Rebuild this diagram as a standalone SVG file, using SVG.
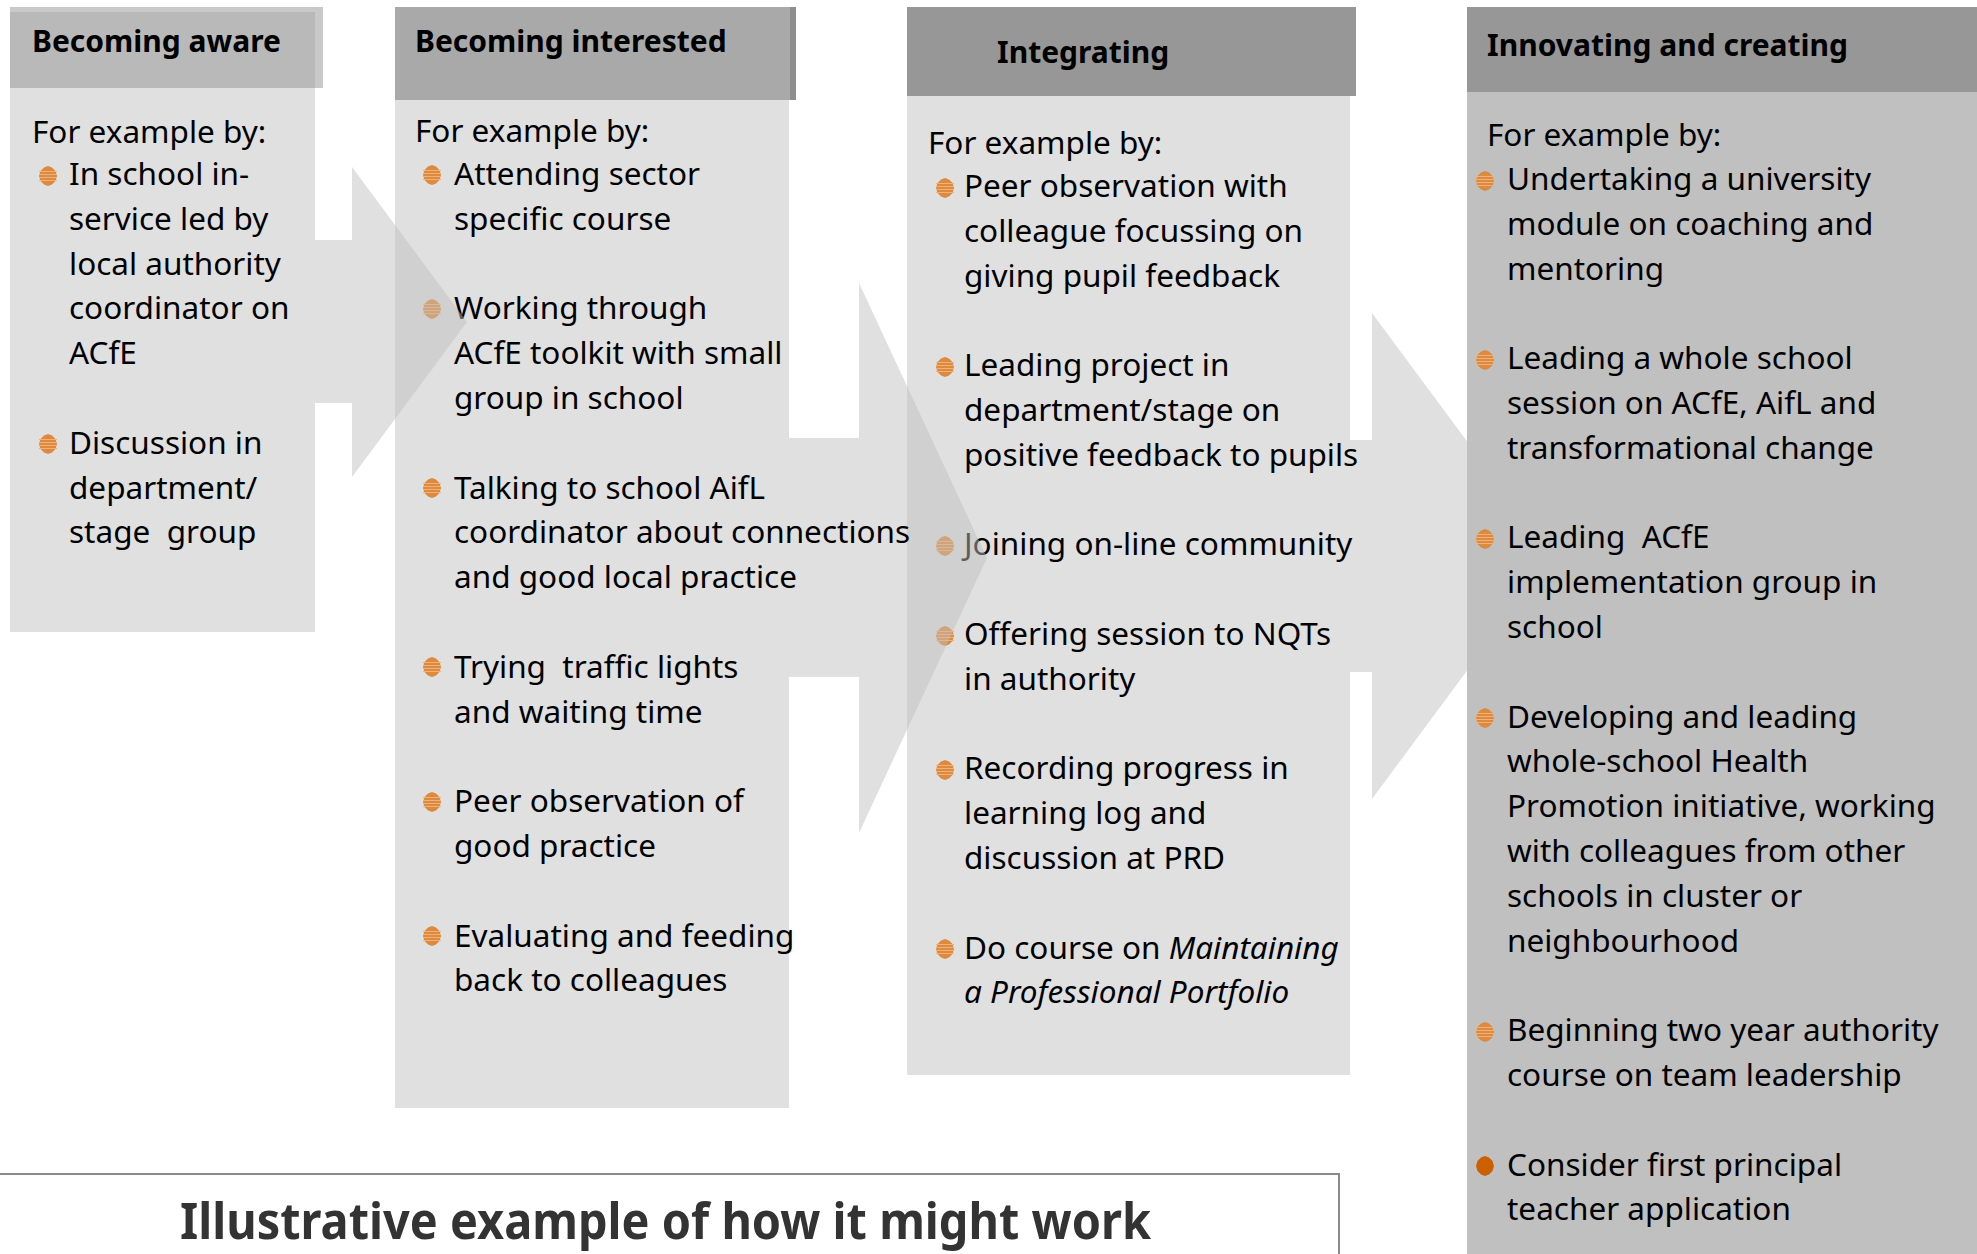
<svg xmlns="http://www.w3.org/2000/svg" width="1977" height="1254" viewBox="0 0 1977 1254">
  <defs>
    <style>
      .t { font-family: "Noto Sans", "DejaVu Sans", sans-serif; font-size: 31.5px; fill: #000; white-space: pre; }
      .h { font-family: "Noto Sans", "DejaVu Sans", sans-serif; font-size: 30px; font-weight: bold; fill: #000; white-space: pre; }
      .i { font-style: italic; }
      .body-light { fill: #e0e0e0; }
      .arrow { fill: #bfbfbf; fill-opacity: 0.485; }
    </style>
    <!-- striped orange bullet -->
    <g id="bul">
      <polygon points="0,-10 4,-8.5 7.5,-5 9,0 7.5,5 4,8.5 0,10 -4,8.5 -7.5,5 -9,0 -7.5,-5 -4,-8.5" fill="#de8a3e"/>
      <g stroke="#f0b27a" stroke-width="1">
        <line x1="-9" y1="-4.5" x2="9" y2="-4.5"/>
        <line x1="-9" y1="-1.5" x2="9" y2="-1.5"/>
        <line x1="-9" y1="1.5" x2="9" y2="1.5"/>
        <line x1="-9" y1="4.5" x2="9" y2="4.5"/>
      </g>
    </g>
    <polygon id="bulSolid" points="0,-10 4,-8.5 7.5,-5 9,0 7.5,5 4,8.5 0,10 -4,8.5 -7.5,5 -9,0 -7.5,-5 -4,-8.5" fill="#cc5f00"/>
  </defs>

  <rect width="1977" height="1254" fill="#ffffff"/>

  <!-- Block arrow 3 sits under stage 3 text and stage 4 panel -->
  <g id="connectors">
    <polygon id="arrow-3-4" class="arrow" points="1350,440 1372,440 1372,313 1552,556 1372,799 1372,672 1350,672"/>
  </g>

  <!-- Stage 3 -->
  <g id="integrating">
    <rect x="907" y="7" width="449" height="89" fill="#979797"/>
    <rect class="body-light" x="907" y="96" width="443" height="979"/>
    <text class="h" x="997" y="63">Integrating</text>
    <text class="t" x="928" y="154">For example by:</text>
    <use href="#bul" x="945" y="188"/>
    <text class="t" x="964" y="197">Peer observation with</text>
    <text class="t" x="964" y="241.8">colleague focussing on</text>
    <text class="t" x="964" y="286.6">giving pupil feedback</text>
    <use href="#bul" x="945" y="367"/>
    <text class="t" x="964" y="376.2">Leading project in</text>
    <text class="t" x="964" y="421">department/stage on</text>
    <text class="t" x="964" y="465.8">positive feedback to pupils</text>
    <use href="#bul" x="945" y="546"/>
    <text class="t" x="964" y="555.4">Joining on-line community</text>
    <use href="#bul" x="945" y="636"/>
    <text class="t" x="964" y="645">Offering session to NQTs</text>
    <text class="t" x="964" y="689.8">in authority</text>
    <use href="#bul" x="945" y="770"/>
    <text class="t" x="964" y="779.4">Recording progress in</text>
    <text class="t" x="964" y="824.2">learning log and</text>
    <text class="t" x="964" y="869">discussion at PRD</text>
    <use href="#bul" x="945" y="949"/>
    <text class="t" x="964" y="958.6">Do course on <tspan class="i">Maintaining</tspan></text>
    <text class="t i" x="964" y="1003.4">a Professional Portfolio</text>
  </g>

  <!-- Block arrow 2 overlays the start of stage 3 -->
  <g id="connector-2">
    <polygon class="arrow" points="789,438 859,438 859,283 987,558 859,833 859,677 789,677"/>
  </g>

  <!-- Stage 1 -->
  <g id="becoming-aware">
    <rect x="10" y="7" width="313" height="81" fill="#c9c9c9"/>
    <rect x="10" y="12" width="305" height="76" fill="#b9b9b9"/>
    <rect class="body-light" x="10" y="88" width="305" height="544"/>
    <text class="h" x="32" y="52">Becoming aware</text>
    <text class="t" x="32" y="143">For example by:</text>
    <use href="#bul" x="48" y="176"/>
    <text class="t" x="69" y="185">In school in-</text>
    <text class="t" x="69" y="229.8">service led by</text>
    <text class="t" x="69" y="274.6">local authority</text>
    <text class="t" x="69" y="319.4">coordinator on</text>
    <text class="t" x="69" y="364.2">ACfE</text>
    <use href="#bul" x="48" y="444"/>
    <text class="t" x="69" y="453.8">Discussion in</text>
    <text class="t" x="69" y="498.6">department/</text>
    <text class="t" x="69" y="543.4">stage  group</text>
  </g>

  <!-- Stage 2 -->
  <g id="becoming-interested">
    <rect x="395" y="7" width="401" height="93" fill="#a9a9a9"/>
    <rect x="790" y="7" width="6" height="93" fill="#8e8e8e"/>
    <rect class="body-light" x="395" y="100" width="394" height="1008"/>
    <text class="h" x="415" y="52">Becoming interested</text>
    <text class="t" x="415" y="142">For example by:</text>
    <use href="#bul" x="432" y="175"/>
    <text class="t" x="454" y="185">Attending sector</text>
    <text class="t" x="454" y="229.8">specific course</text>
    <use href="#bul" x="432" y="309"/>
    <text class="t" x="454" y="319.4">Working through</text>
    <text class="t" x="454" y="364.2">ACfE toolkit with small</text>
    <text class="t" x="454" y="409">group in school</text>
    <use href="#bul" x="432" y="488"/>
    <text class="t" x="454" y="498.6">Talking to school AifL</text>
    <text class="t" x="454" y="543.4">coordinator about connections</text>
    <text class="t" x="454" y="588.2">and good local practice</text>
    <use href="#bul" x="432" y="667"/>
    <text class="t" x="454" y="677.8">Trying  traffic lights</text>
    <text class="t" x="454" y="722.6">and waiting time</text>
    <use href="#bul" x="432" y="802"/>
    <text class="t" x="454" y="812.2">Peer observation of</text>
    <text class="t" x="454" y="857">good practice</text>
    <use href="#bul" x="432" y="936"/>
    <text class="t" x="454" y="946.6">Evaluating and feeding</text>
    <text class="t" x="454" y="991.4">back to colleagues</text>
  </g>

  <!-- Block arrow 1 overlays the start of stage 2 -->
  <g id="connector-1">
    <polygon class="arrow" points="315,240 352,240 352,167 467,322 352,477 352,403 315,403"/>
  </g>

  <!-- Stage 4 -->
  <g id="innovating-and-creating">
    <rect x="1467" y="7" width="510" height="85" fill="#979797"/>
    <rect x="1467" y="92" width="510" height="1162" fill="#c0c0c0"/>
    <text class="h" x="1487" y="56">Innovating and creating</text>
    <text class="t" x="1487" y="146">For example by:</text>
    <use href="#bul" x="1485" y="181"/>
    <text class="t" x="1507" y="190">Undertaking a university</text>
    <text class="t" x="1507" y="234.8">module on coaching and</text>
    <text class="t" x="1507" y="279.6">mentoring</text>
    <use href="#bul" x="1485" y="360"/>
    <text class="t" x="1507" y="369.2">Leading a whole school</text>
    <text class="t" x="1507" y="414">session on ACfE, AifL and</text>
    <text class="t" x="1507" y="458.8">transformational change</text>
    <use href="#bul" x="1485" y="539"/>
    <text class="t" x="1507" y="548.4">Leading  ACfE</text>
    <text class="t" x="1507" y="593.2">implementation group in</text>
    <text class="t" x="1507" y="638">school</text>
    <use href="#bul" x="1485" y="718"/>
    <text class="t" x="1507" y="727.6">Developing and leading</text>
    <text class="t" x="1507" y="772.4">whole-school Health</text>
    <text class="t" x="1507" y="817.2">Promotion initiative, working</text>
    <text class="t" x="1507" y="862">with colleagues from other</text>
    <text class="t" x="1507" y="906.8">schools in cluster or</text>
    <text class="t" x="1507" y="951.6">neighbourhood</text>
    <use href="#bul" x="1485" y="1032"/>
    <text class="t" x="1507" y="1041.2">Beginning two year authority</text>
    <text class="t" x="1507" y="1086">course on team leadership</text>
    <use href="#bulSolid" x="1485" y="1166"/>
    <text class="t" x="1507" y="1175.6">Consider first principal</text>
    <text class="t" x="1507" y="1220.4">teacher application</text>
  </g>

  <!-- Caption box -->
  <g id="caption">
    <rect x="-2" y="1174" width="1341" height="90" fill="#ffffff" stroke="#8a8a8a" stroke-width="2"/>
    <text x="180" y="1239" textLength="971" lengthAdjust="spacingAndGlyphs" style="font-family: 'Noto Sans', 'DejaVu Sans', sans-serif; font-size: 50px; font-weight: bold; fill: #333333;">Illustrative example of how it might work</text>
  </g>
</svg>
